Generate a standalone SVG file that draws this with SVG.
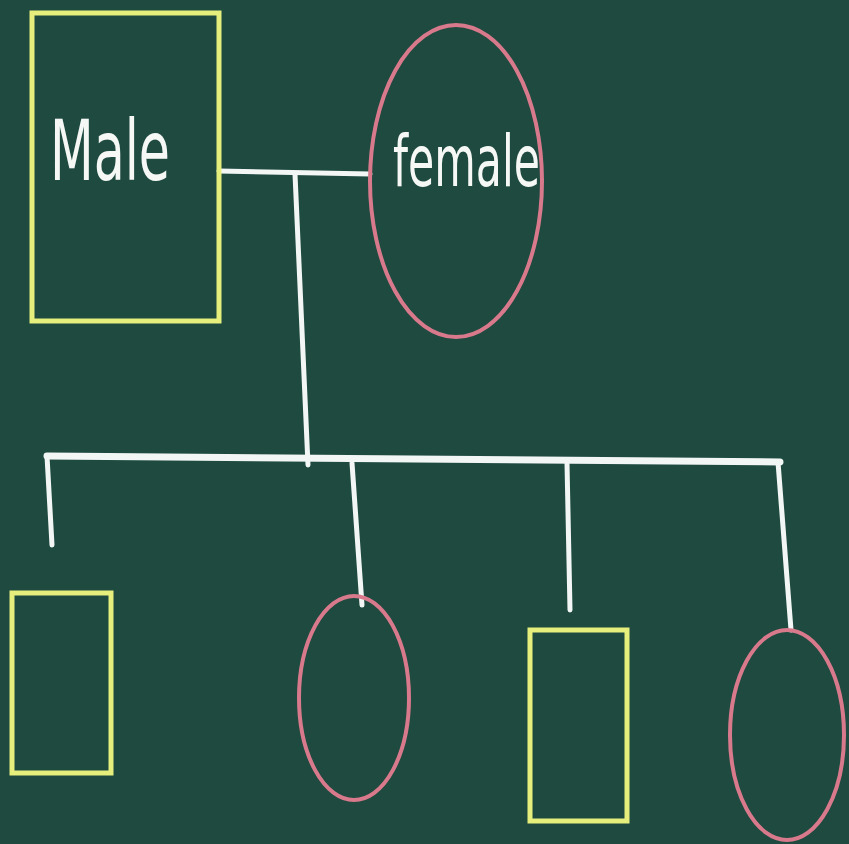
<svg xmlns="http://www.w3.org/2000/svg" width="849" height="844" viewBox="0 0 849 844">
<style>
.m{fill:none;stroke:#e6ef7c;stroke-width:5}
.f{fill:none;stroke:#d9798c;stroke-width:4}
.c{fill:none;stroke:#f2f6f4;stroke-width:5;stroke-linecap:round}
.t{fill:#f6f8f6;font-family:"DejaVu Sans","Liberation Sans",sans-serif}
</style>
<rect width="849" height="844" fill="#1e4a40"/>
<g id="connectors">
<path class="c" d="M219 171 L370 174"/>
<path class="c" d="M295 174 L308 465"/>
<path class="c" d="M47 456 L780 462" style="stroke-width:7"/>
<path class="c" d="M47 456 L52 545"/>
<path class="c" d="M352 463 L362 605"/>
<path class="c" d="M567 463 L570 610"/>
<path class="c" d="M778 462 L791 630"/>
</g>
<g id="male">
<rect class="m" x="32" y="13" width="187" height="308"/>
<text class="t" x="50" y="180" font-size="84" textLength="120" lengthAdjust="spacingAndGlyphs">Male</text>
</g>
<g id="female">
<ellipse class="f" cx="456" cy="181" rx="86" ry="156"/>
<text class="t" x="393" y="186" font-size="72" textLength="147" lengthAdjust="spacingAndGlyphs">female</text>
</g>
<g id="child1"><rect class="m" x="12" y="593" width="99" height="180"/></g>
<g id="child2"><ellipse class="f" cx="354" cy="698" rx="55" ry="102"/></g>
<g id="child3"><rect class="m" x="530" y="630" width="97" height="191"/></g>
<g id="child4"><ellipse class="f" cx="787" cy="735" rx="57" ry="105"/></g>
</svg>
